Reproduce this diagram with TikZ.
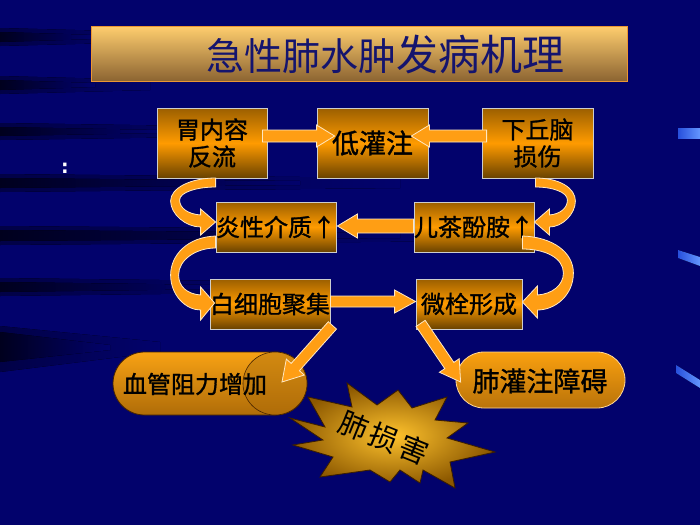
\documentclass[tikz,border=0pt]{standalone}
\usepackage{fontspec}
\newfontfamily\cjk{Noto Sans CJK SC}
\newfontfamily\cjkb[FakeBold=1.2]{Noto Sans CJK SC}
\newfontfamily\djv{DejaVu Sans}
\usetikzlibrary{calc,shapes.misc,shapes.geometric}
\definecolor{bg}{RGB}{2,2,108}
\definecolor{streakc}{RGB}{0,0,30}
\definecolor{streakf}{RGB}{1,1,70}
\definecolor{markl}{RGB}{40,80,220}
\definecolor{markr}{RGB}{100,150,255}
\definecolor{ttop}{RGB}{255,206,110}
\definecolor{tbot}{RGB}{140,100,50}
\definecolor{tedge}{RGB}{235,150,50}
\definecolor{ttext}{RGB}{20,20,110}
\definecolor{bxtop}{RGB}{155,95,0}
\definecolor{bxmid}{RGB}{255,155,0}
\definecolor{bxbot}{RGB}{105,66,0}
\definecolor{bxedge}{RGB}{205,205,205}
\definecolor{arrf}{RGB}{255,158,20}
\definecolor{arre}{RGB}{255,232,195}
\definecolor{pltop}{RGB}{248,162,20}
\definecolor{plbot}{RGB}{175,108,8}
\definecolor{pledge}{RGB}{70,35,0}
\definecolor{prtop}{RGB}{250,160,15}
\definecolor{prbot}{RGB}{185,115,10}
\definecolor{predge}{RGB}{255,215,150}
\definecolor{bin}{RGB}{255,195,45}
\definecolor{bout}{RGB}{140,88,0}
\definecolor{bedge}{RGB}{60,30,0}
\tikzset{
  streak/.style={left color=streakc, right color=bg},
  faintstreak/.style={left color=streakf, right color=bg},
  bluemark/.style={left color=markl, right color=markr},
  titlebox/.style={draw=tedge, line width=0.8pt, top color=ttop, bottom color=tbot,
    minimum width=536pt, minimum height=55pt, inner sep=0pt},
  box/.style={draw=bxedge, line width=0.8pt, top color=bxtop, bottom color=bxbot, middle color=bxmid,
    inner sep=0pt, align=center, text=black, font=\cjkb\fontsize{24}{27}\selectfont},
  blockarrow/.style={fill=arrf, draw=arre, line width=0.8pt, line join=miter},
  pillL/.style={rounded rectangle, draw=pledge, line width=0.8pt, top color=pltop, bottom color=plbot,
    minimum width=194pt, minimum height=63pt, inner sep=0pt},
  pillR/.style={rounded rectangle, draw=predge, line width=0.8pt, top color=prtop, bottom color=prbot,
    minimum width=169pt, minimum height=56pt, inner sep=0pt},
  burst/.style={draw=bedge, line width=0.8pt, inner color=bin, outer color=bout},
}
\newcommand\blkarrow[5]{%
  \path ($(#2)!#5!(#1)$) coordinate (bah);
  \filldraw[blockarrow] ($(#1)!#3!90:(#2)$) -- ($(bah)!#3!90:(#2)$) -- ($(bah)!#4!90:(#2)$) -- (#2)
    -- ($(bah)!#4!-90:(#2)$) -- ($(bah)!#3!-90:(#2)$) -- ($(#1)!#3!-90:(#2)$) -- cycle;}
\newcommand\bgstreak[4]{% y-top, y-bottom, length, faint length
  \fill[faintstreak] (0,#1-4) -- (#4,#1) -- (#4,#2) -- (0,#2+4) -- cycle;
  \fill[streak] (0,#1) -- (#3,#1+3) -- (#3,#2-3) -- (0,#2) -- cycle;}
\begin{document}
\begin{tikzpicture}[x=1pt,y=-1pt]
\useasboundingbox (0,0) rectangle (700,525);
\fill[bg] (0,0) rectangle (700,525);
% background streaks
\bgstreak{32}{42}{95}{150}
\bgstreak{80}{90}{95}{150}
\bgstreak{127}{136}{160}{260}
\bgstreak{178}{188}{300}{400}
\bgstreak{230}{241}{400}{480}
\bgstreak{282}{292}{220}{320}
\fill[faintstreak] (0,326) -- (160,342) -- (160,352) -- (0,372) -- cycle;
\fill[streak] (0,332) -- (110,345) -- (110,350) -- (0,362) -- cycle;
% right blue marks
\fill[bluemark] (678,128) -- (700,128) -- (700,138) -- (678,138) -- cycle;
\fill[bluemark] (678,250) -- (700,257) -- (700,266) -- (678,258) -- cycle;
\fill[bluemark] (676,365) -- (700,380) -- (700,388) -- (676,373) -- cycle;
% colon
\node[text=white, font=\djv\bfseries\fontsize{19}{19}\selectfont, inner sep=0pt] (colon) at (65,168) {:};
% title
\node[titlebox] (tbox) at (359,53.5) {};
\node[text=ttext, font=\cjk, inner sep=0pt] (ttl) at (385,55)
  {{\fontsize{38}{40}\selectfont 急性肺水肿}{\fontsize{42}{44}\selectfont 发病机理}};
% boxes
\node[box, minimum width=110pt, minimum height=70pt] (n1) at (212,143) {胃内容\\反流};
\node[box, minimum width=111pt, minimum height=70pt, font=\cjkb\fontsize{27}{30}\selectfont] (n2) at (372.5,143) {低灌注};
\node[box, minimum width=111pt, minimum height=70pt] (n3) at (537.5,143) {下丘脑\\损伤};
\node[box, minimum width=116pt, minimum height=50pt] (n4) at (276,227) {炎性介质↑};
\node[box, minimum width=116pt, minimum height=50pt] (n5) at (474,227) {儿茶酚胺↑};
\node[box, minimum width=116pt, minimum height=50pt] (n6) at (270,304) {白细胞聚集};
\node[box, minimum width=106pt, minimum height=50pt] (n7) at (469,304) {微栓形成};
% curved arrows
\begin{scope}[shift={(n4.west)}]
\filldraw[blockarrow] (0,-49) .. controls (-25,-49) and (-45,-39) .. (-45,-26)
  .. controls (-45,-13) and (-30,0) .. (-15,0) -- (-15,8) -- (0,-5) -- (-15,-18) -- (-15,-12)
  .. controls (-28,-13) and (-36,-19) .. (-36,-27)
  .. controls (-36,-35) and (-18,-40) .. (0,-40) -- cycle;
\end{scope}
\begin{scope}[shift={(n6.west)}]
\filldraw[blockarrow] (6,-68) .. controls (-22,-67) and (-39,-49) .. (-39,-29)
  .. controls (-39,-9) and (-24,6) .. (-9,6) -- (-9,16) -- (5,-1) -- (-9,-17) -- (-9,-9)
  .. controls (-22,-10) and (-31,-17) .. (-31,-29)
  .. controls (-31,-44) and (-14,-56) .. (6,-56) -- cycle;
\end{scope}
\begin{scope}[shift={(n5.east)}]
\filldraw[blockarrow] (1,-49) .. controls (25,-49) and (41,-39) .. (41,-26)
  .. controls (41,-13) and (28,0) .. (15,0) -- (15,8) -- (0,-5) -- (15,-18) -- (15,-12)
  .. controls (26,-13) and (33,-19) .. (33,-27)
  .. controls (33,-35) and (18,-40) .. (1,-40) -- cycle;
\end{scope}
\begin{scope}[shift={(n7.east)}]
\filldraw[blockarrow] (0,-68) .. controls (30,-67) and (51,-52) .. (51,-31)
  .. controls (51,-9) and (33,6) .. (15,6) -- (15,14) -- (0,-2) -- (15,-18) -- (15,-9)
  .. controls (30,-10) and (41,-19) .. (41,-31)
  .. controls (41,-46) and (23,-55) .. (0,-55) -- cycle;
\end{scope}
% straight block arrows
\coordinate (a1s) at ($(n1.east)+(-5,-7)$);
\coordinate (a1e) at ($(n2.west)+(18,-7)$);
\blkarrow{a1s}{a1e}{6pt}{11pt}{18pt}
\coordinate (a2s) at ($(n3.west)+(5,-7)$);
\coordinate (a2e) at ($(n2.east)+(-17,-7)$);
\blkarrow{a2s}{a2e}{6pt}{11pt}{18pt}
\coordinate (a3s) at ($(n5.west)+(0,-1)$);
\coordinate (a3e) at ($(n4.east)+(1,-1)$);
\blkarrow{a3s}{a3e}{7pt}{12pt}{20pt}
\coordinate (a4s) at ($(n6.east)+(0,-2.5)$);
\coordinate (a4e) at ($(n7.west)+(0,-2.5)$);
\blkarrow{a4s}{a4e}{5.5pt}{11.5pt}{21pt}
% starburst
\filldraw[burst] (290,418) -- (325,427) -- (308,397) -- (352,407) -- (347,383) -- (377,405)
  -- (398,390) -- (412,408) -- (447,397) -- (435,420) -- (468,423) -- (447,438) -- (495,452)
  -- (450,462) -- (455,488) -- (423,470) -- (420,483) -- (400,470) -- (390,482) -- (370,470)
  -- (320,477) -- (333,457) -- (293,445) -- (323,440) -- cycle;
\node[rotate=-22, font=\cjk\fontsize{29}{29}\selectfont, text=black, inner sep=0pt] (lung) at (384,438) {肺\hspace{3pt}损\hspace{3pt}害};
% pills
\node[pillL] (pL) at (210,383.5) {};
\node[ellipse, draw=pledge, line width=0.6pt, top color=pltop!85!black, bottom color=plbot,
  minimum width=64pt, minimum height=63pt, inner sep=0pt] (pLf) at (275,383.5) {};
\node[font=\cjkb\fontsize{24}{24}\selectfont, text=black] (tL) at (195,384) {血管阻力增加};
\node[pillR] (pR) at (540.5,380) {};
\node[font=\cjkb\fontsize{27}{27}\selectfont, text=black] (tR) at (540,381) {肺灌注障碍};
% diagonal arrows
\coordinate (a5s) at ($(n6.south east)+(2,-4)$);
\coordinate (a5e) at ($(pLf.center)+(7,-1.5)$);
\blkarrow{a5s}{a5e}{5.5pt}{12pt}{20pt}
\coordinate (a6s) at ($(n7.south west)+(5,-6)$);
\coordinate (a6e) at ($(pR.west)+(5,2)$);
\blkarrow{a6s}{a6e}{5.5pt}{12pt}{20pt}
\end{tikzpicture}
\end{document}
